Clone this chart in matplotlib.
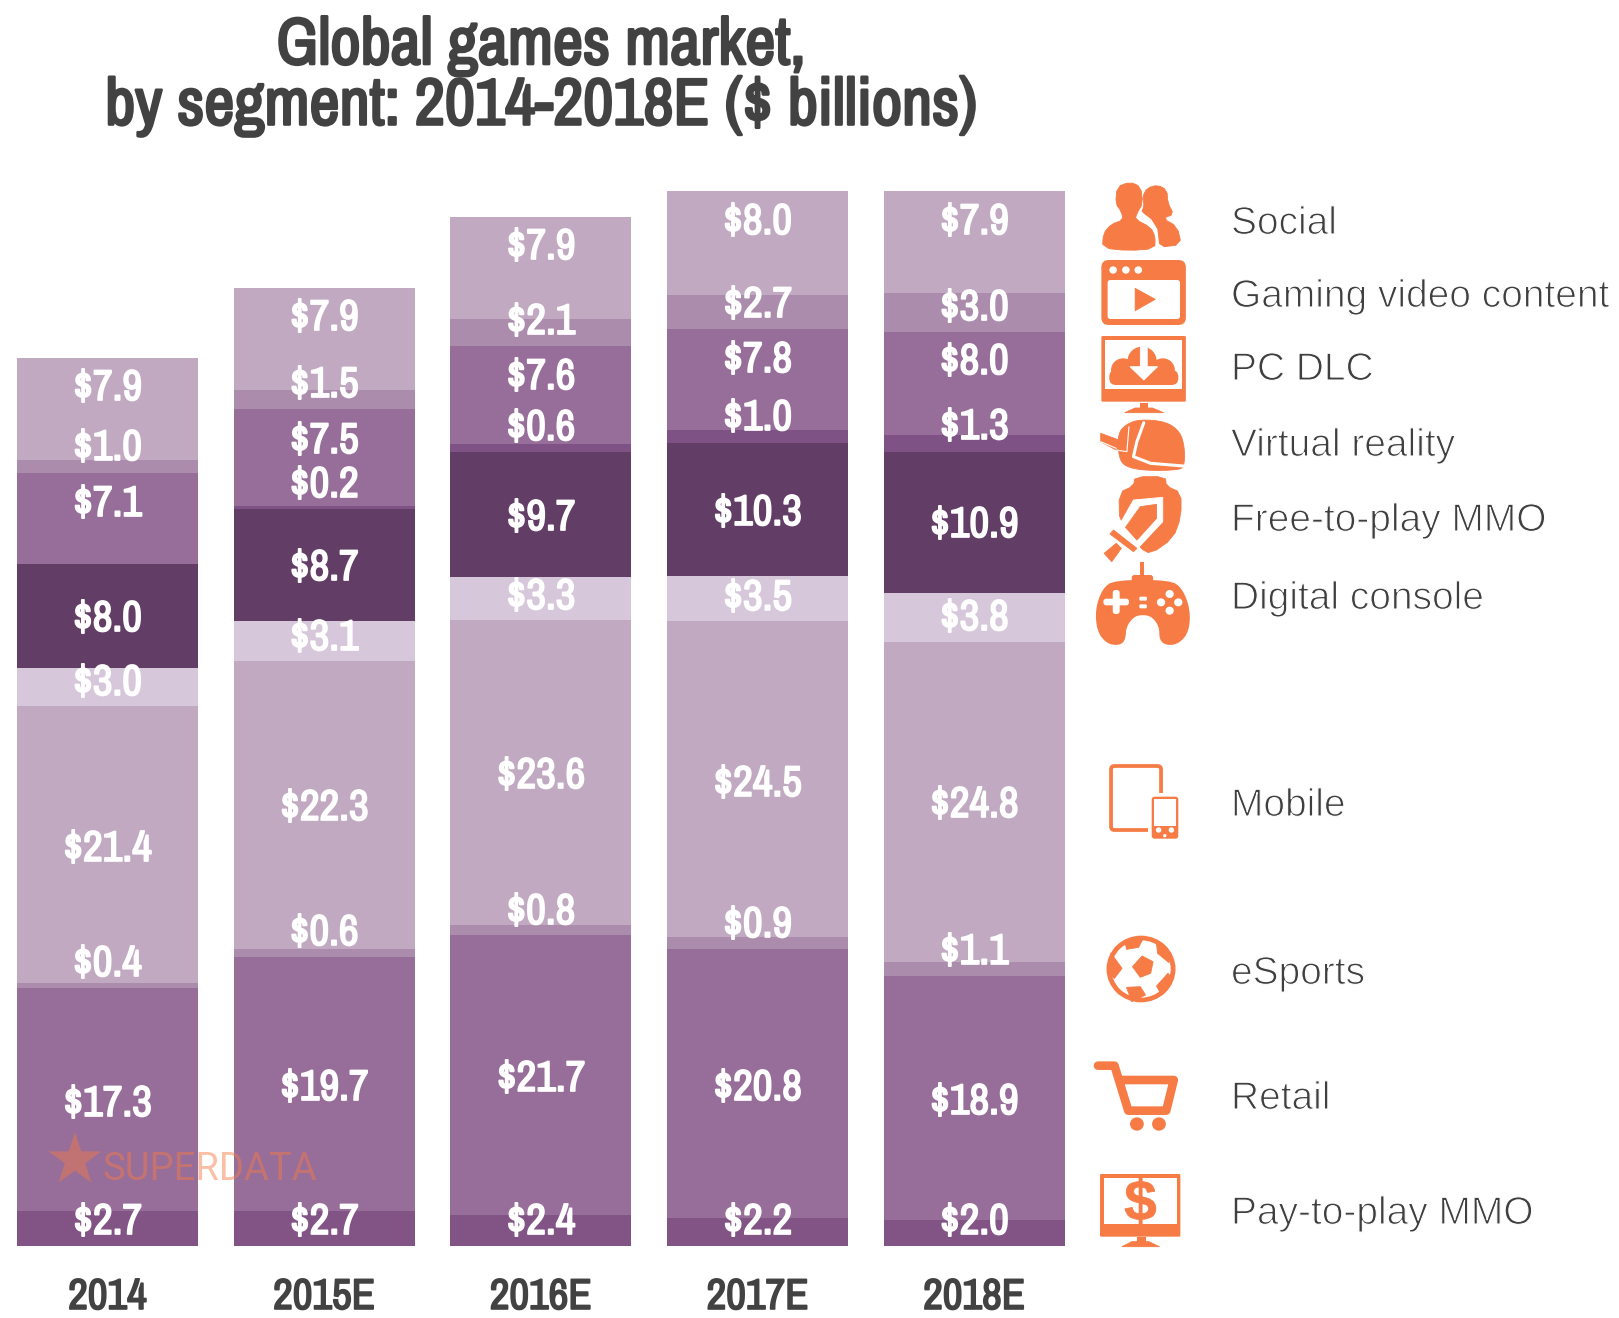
import matplotlib
matplotlib.use("Agg")
import matplotlib.pyplot as plt
import matplotlib.patheffects as pe
from matplotlib.patches import Polygon, Rectangle, Circle, FancyBboxPatch, PathPatch
from matplotlib.path import Path
from matplotlib.textpath import TextPath
from matplotlib.font_manager import FontProperties
from matplotlib.transforms import Affine2D

years = ["2014", "2015E", "2016E", "2017E", "2018E"]
pay_to_play = [2.7, 2.7, 2.4, 2.2, 2.0]
retail = [17.3, 19.7, 21.7, 20.8, 18.9]
esports = [0.4, 0.6, 0.8, 0.9, 1.1]
mobile = [21.4, 22.3, 23.6, 24.5, 24.8]
console = [3.0, 3.1, 3.3, 3.5, 3.8]
free_to_play = [8.0, 8.7, 9.7, 10.3, 10.9]
virtual_reality = [0.0, 0.2, 0.6, 1.0, 1.3]
pc_dlc = [7.1, 7.5, 7.6, 7.8, 8.0]
gaming_video = [1.0, 1.5, 2.1, 2.7, 3.0]
social = [7.9, 7.9, 7.9, 8.0, 7.9]
series = [pay_to_play, retail, esports, mobile, console,
          free_to_play, virtual_reality, pc_dlc, gaming_video, social]
colors = ["#825385", "#976D9A", "#AB8CAD", "#C0A9C1", "#D7C7DA",
          "#623D66", "#7F5286", "#976D9A", "#AB8CAD", "#C0A9C1"]
legend_names = ["Social", "Gaming video content", "PC DLC", "Virtual reality",
                "Free-to-play MMO", "Digital console", "Mobile", "eSports",
                "Retail", "Pay-to-play MMO"]

# label centres in figure pixels, bottom segment first (None = no label)
label_px = [
    [1220, 1102, 962, 847, 681, 617, None, 502, 446, 386],
    [1220, 1086, 931, 806, 636, 566, 483, 439, 383, 316],
    [1220, 1077, 910, 774, 595, 516, 426, 375, 320, 245],
    [1220, 1086, 923, 782, 596, 511, 416, 358, 303, 220],
    [1220, 1100, 950, 803, 616, 523, 425, 360, 306, 220],
]
legend_baseline_px = [234, 307, 380, 456, 531, 609, 816, 984, 1109, 1224]

W, H = 1619, 1318
BOTTOM_PX = 1246
PX_PER_UNIT = 12.91
PITCH = 216.7
BAR_W = 181
FIRST_C = 107.5

NARROW = ["Archivo Narrow", "Roboto Condensed", "Liberation Sans", "DejaVu Sans"]
HELV = ["Liberation Sans", "DejaVu Sans"]
ORANGE = "#F67B45"
DARK = "#424242"
bold_white = [pe.withStroke(linewidth=1.25, foreground="white")]
bold_dark = [pe.withStroke(linewidth=1.25, foreground=DARK)]
bold_title = [pe.withStroke(linewidth=1.9, foreground=DARK)]
thin = [pe.Stroke(linewidth=0.8, foreground="white")]

fig = plt.figure(figsize=(W / 100, H / 100), dpi=100, facecolor="white")
ax = fig.add_axes([0, (H - BOTTOM_PX) / H, 1, BOTTOM_PX / H])
ax.set_xlim(-FIRST_C / PITCH, (W - FIRST_C) / PITCH)
ax.set_ylim(0, BOTTOM_PX / PX_PER_UNIT)
for s in ax.spines.values():
    s.set_visible(False)
ax.set_yticks([])
ax.set_xticks(range(len(years)))
ax.set_xticklabels(years, family=NARROW, fontsize=31, color=DARK, path_effects=bold_dark)
ax.tick_params(axis="x", length=0, pad=23)
ax.patch.set_alpha(0)

bottoms = [0.0] * len(years)
for vals, c in zip(series, colors):
    ax.bar(range(len(years)), vals, bottom=bottoms, width=BAR_W / PITCH,
           color=c, linewidth=0, zorder=2)
    bottoms = [b + v for b, v in zip(bottoms, vals)]

for i, ys in enumerate(label_px):
    for j, py in enumerate(ys):
        if py is None:
            continue
        yd = (BOTTOM_PX - (py + 14)) / PX_PER_UNIT
        ax.text(i, yd, f"${series[j][i]:.1f}", ha="center", va="baseline",
                color="white", family=NARROW, fontsize=31, zorder=6,
                clip_on=False, path_effects=bold_white)

ov = fig.add_axes([0, 0, 1, 1])
ov.set_xlim(0, W)
ov.set_ylim(H, 0)
ov.axis("off")
ov.patch.set_alpha(0)

for name, by in zip(legend_names, legend_baseline_px):
    ov.text(1231, by, name, family=HELV, fontsize=28,
            color="#3f3f3f", ha="left", va="baseline", path_effects=thin)

fig.text(541 / W, 1 - 46 / H, "Global games market,", family=NARROW,
         fontsize=47.5, color=DARK, ha="center", va="center", path_effects=bold_title)
fig.text(541 / W, 1 - 106 / H, "by segment: 2014-2018E ($ billions)", family=NARROW,
         fontsize=47.5, color=DARK, ha="center", va="center", path_effects=bold_title)

# ---- icons, drawn in zoom coordinates ----
T1 = Affine2D().scale(1 / 2.9, 1 / 3).translate(1080, 170) + ov.transData
T2 = Affine2D().scale(1 / 2.9, 1 / 3).translate(1080, 740) + ov.transData


def chaikin(pts, n=2):
    for _ in range(n):
        out = []
        for a, b in zip(pts, pts[1:] + pts[:1]):
            out.append((0.75 * a[0] + 0.25 * b[0], 0.75 * a[1] + 0.25 * b[1]))
            out.append((0.25 * a[0] + 0.75 * b[0], 0.25 * a[1] + 0.75 * b[1]))
        pts = out
    return pts


def poly(pts, T, c=ORANGE, z=3, lw=0.6, smooth=0):
    if smooth:
        pts = chaikin(pts, smooth)
    ov.add_patch(Polygon(pts, closed=True, fc=c, ec=c, lw=lw, transform=T, zorder=z, joinstyle="round"))


def rect(x0, y0, x1, y1, T, c=ORANGE, z=3, r=0):
    if r:
        ov.add_patch(FancyBboxPatch((x0 + r, y0 + r), x1 - x0 - 2 * r, y1 - y0 - 2 * r,
                                    boxstyle=f"round,pad={r},rounding_size={r}",
                                    fc=c, ec="none", transform=T, zorder=z))
    else:
        ov.add_patch(Rectangle((x0, y0), x1 - x0, y1 - y0, fc=c, ec="none", transform=T, zorder=z))


def circ(x, y, r, T, c=ORANGE, z=3):
    ov.add_patch(Circle((x, y), r, fc=c, ec="none", transform=T, zorder=z))


def line(pts, T, c=ORANGE, lw=2, z=3):
    xs, ys = zip(*pts)
    ov.plot(xs, ys, color=c, lw=lw, transform=T, zorder=z, solid_capstyle="round", solid_joinstyle="round")


# social
poly([(108, 50), (145, 36), (176, 50), (182, 100), (165, 130), (160, 148), (205, 172), (218, 200),
      (217, 236), (140, 242), (65, 234), (68, 190), (90, 163), (125, 150), (120, 125), (103, 100)], T1, smooth=1)
poly([(182, 78), (195, 54), (225, 45), (252, 60), (255, 100), (272, 133), (240, 145), (282, 170),
      (294, 224), (228, 232), (224, 178), (205, 150), (178, 128), (186, 108)], T1, smooth=1)
line([(178, 128), (205, 150), (222, 178), (228, 232)], T1, c="white", lw=1.2, z=4)
# video
rect(62, 270, 307, 465, T1, r=22)
rect(80, 330, 290, 447, T1, c="white", z=4, r=8)
for x in (96, 133, 169):
    circ(x, 300, 11, T1, c="white", z=4)
poly([(160, 355), (218, 388), (160, 422)], T1, z=5)
# PC DLC
rect(62, 498, 307, 695, T1, r=4)
rect(73, 510, 297, 657, T1, c="white", z=4)
rect(85, 600, 285, 645, T1, z=5, r=20)
for x, y, r in [(125, 600, 35), (180, 572, 42), (240, 600, 35)]:
    circ(x, y, r, T1, z=5)
poly([(175, 530), (195, 530), (195, 590), (225, 590), (185, 630), (145, 590), (175, 590)], T1, c="white", z=6)
rect(175, 700, 198, 715, T1)
poly([(130, 728), (160, 714), (210, 714), (242, 728)], T1)
# virtual reality
poly([(110, 790), (135, 762), (175, 748), (250, 755), (290, 785), (303, 830), (303, 885), (290, 900),
      (190, 902), (130, 890), (112, 860)], T1, smooth=2)
poly([(60, 790), (108, 808), (135, 845), (105, 840), (60, 815)], T1)
line([(185, 758), (165, 815), (155, 860), (205, 880), (300, 888)], T1, c="white", lw=2.2, z=4)
line([(142, 770), (136, 845), (105, 840)], T1, c="white", lw=0.8, z=4)
line([(60, 815), (105, 835)], T1, c="white", lw=0.8, z=4)
# free-to-play MMO
poly([(160, 920), (248, 920), (250, 948), (293, 968), (293, 1040), (270, 1105), (205, 1152), (175, 1135),
      (115, 1060), (113, 968), (155, 948)], T1, smooth=1)
poly([(155, 990), (240, 982), (240, 1055), (172, 1130), (110, 1072)], T1, c="white", z=4)
poly([(175, 1010), (222, 1003), (222, 1045), (165, 1110), (132, 1072)], T1, z=5)
poly([(97, 1080), (165, 1135), (155, 1145), (87, 1092)], T1, z=5)
poly([(105, 1120), (120, 1135), (92, 1175), (70, 1150)], T1, z=5)
# console
rect(175, 1175, 187, 1215, T1)
rect(150, 1215, 212, 1240, T1, r=8)
poly([(100, 1232), (262, 1232), (296, 1258), (318, 1320), (314, 1385), (285, 1420), (250, 1424), (232, 1408),
      (232, 1370), (210, 1338), (182, 1332), (155, 1338), (132, 1370), (130, 1408), (115, 1424), (80, 1420),
      (52, 1385), (46, 1320), (66, 1258)], T1, lw=1.0, smooth=2)
rect(68, 1286, 142, 1306, T1, c="white", z=4, r=8)
rect(95, 1260, 115, 1332, T1, c="white", z=4, r=8)
rect(172, 1280, 194, 1292, T1, c="white", z=4, r=4)
rect(172, 1303, 194, 1315, T1, c="white", z=4, r=4)
for x, y in [(260, 1272), (235, 1297), (285, 1297), (260, 1322)]:
    circ(x, y, 12, T1, c="white", z=4)
# mobile
ov.add_patch(FancyBboxPatch((90, 78), 145, 192, boxstyle="round,pad=0,rounding_size=10", fc="white",
                            ec=ORANGE, lw=2.7, transform=T2, zorder=3))
rect(198, 160, 295, 305, T2, c="white", z=4)
rect(208, 170, 285, 296, T2, z=5, r=8)
rect(216, 178, 277, 258, T2, c="white", z=6)
for x, y, r in [(228, 270, 8), (265, 270, 8), (246, 287, 5)]:
    circ(x, y, r, T2, c="white", z=6)
# eSports
circ(177, 687, 100, T2)
circ(177, 687, 86, T2, c="white", z=4)
poly([(152, 680), (180, 648), (212, 665), (205, 700), (175, 712)], T2, z=5)
poly([(130, 603), (182, 598), (170, 622), (135, 628)], T2, z=5)
poly([(222, 612), (262, 640), (258, 668), (225, 640)], T2, z=5)
poly([(255, 700), (268, 715), (232, 757), (222, 738)], T2, z=5)
poly([(135, 742), (175, 740), (190, 765), (150, 785)], T2, z=5)
poly([(90, 640), (122, 685), (100, 715), (82, 700)], T2, z=5)
# retail
line([(52, 977), (100, 977), (140, 1112), (250, 1112), (272, 1020), (122, 1020)], T2, lw=6.2)
circ(165, 1152, 20, T2)
circ(229, 1152, 20, T2)
# pay-to-play
rect(58, 1302, 291, 1490, T2, r=4)
rect(70, 1315, 280, 1452, T2, c="white", z=4)
tp = TextPath((0, 0), "$", size=170, prop=FontProperties(family="Liberation Sans", weight="bold"))
ov.add_patch(PathPatch(tp, fc=ORANGE, ec=ORANGE, lw=0.5, zorder=5,
                       transform=Affine2D().scale(1, -1).translate(128, 1440) + T2))
rect(165, 1490, 190, 1505, T2)
poly([(122, 1520), (150, 1505), (200, 1505), (230, 1520)], T2)

# watermark
star = Path.unit_regular_star(5, 0.382)
ov.add_patch(PathPatch(star, fc=ORANGE, ec="none", alpha=0.45, zorder=5,
                       transform=Affine2D().scale(28, -28).translate(75, 1160) + ov.transData))
ov.text(102, 1180, "SUPERDATA", family=["Roboto", "DejaVu Sans"], weight="normal", fontsize=27.5,
        color=ORANGE, alpha=0.48, ha="left", va="baseline", zorder=5)

fig.savefig("out.png", dpi=100, facecolor="white")
